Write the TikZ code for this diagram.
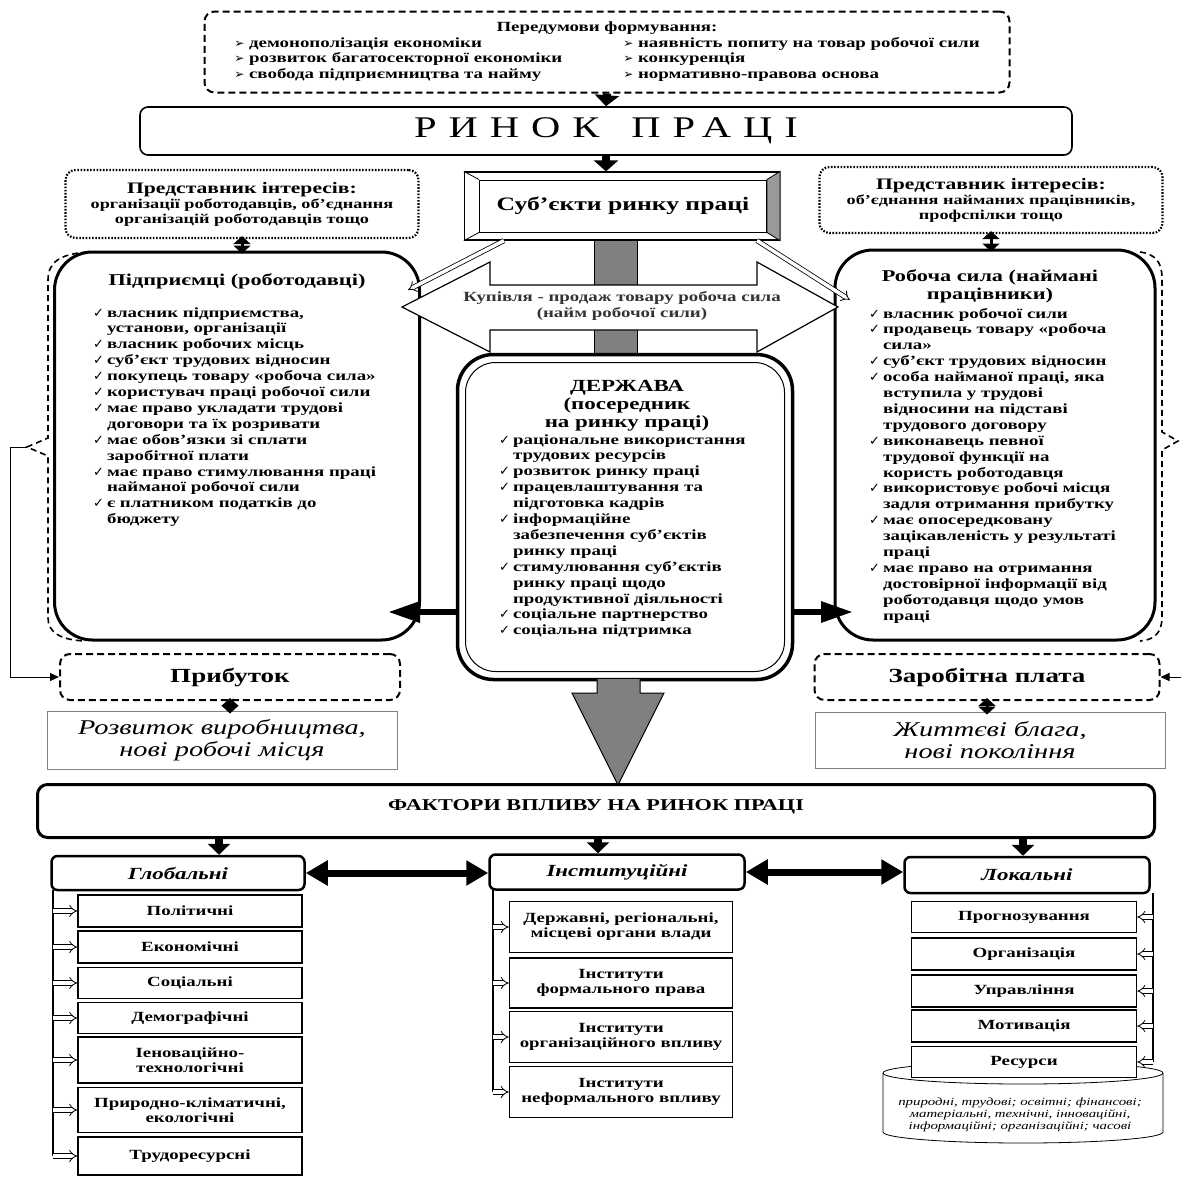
\documentclass[tikz,border=0pt]{standalone}
\usepackage{fontspec}
\setmainfont{Liberation Serif}[FakeStretch=1.35]
\newfontfamily\dingfont{DejaVu Sans}
\usetikzlibrary{arrows.meta,positioning}

\newcommand{\chk}{{\dingfont\mdseries\fontsize{13}{13}\selectfont ✓}}
\newcommand{\pnt}{{\dingfont\mdseries\fontsize{12}{12}\selectfont ➢}}
\newcommand{\listfont}{\fontsize{14}{15.9}\selectfont}
\newcommand{\checklist}[1]{\begin{tabular}[t]{@{}l@{\hspace{3pt}}l@{}}#1\end{tabular}}

\begin{document}
\begin{tikzpicture}[
        x = 1pt, y = -1pt, % one unit = one pixel of the scheme
        font = \bfseries,
        inner sep = 2pt
        ]

        \tikzset{
        dashbox/.style = {draw, line width=2pt, dash pattern=on 7pt off 4pt, rounded corners=10pt},
        dotbox/.style = {draw, line width=2.2pt, dash pattern=on 1.6pt off 1.6pt, rounded corners=10pt, align=center,
                font=\bfseries\fontsize{13.5}{15}\selectfont},
        panel/.style = {draw, line width=3pt, rounded corners=38pt, fill=white},
        tagbox/.style = {draw, line width=2.5pt, rounded corners=6pt, fill=white},
        factor/.style = {draw, line width=1.3pt, align=center, inner sep=1pt, fill=white,
                font=\bfseries\fontsize{14}{15}\selectfont},
        downarrow/.style = {line width=8pt, -{Triangle[length=11pt,width=24pt]}},
        pairarrow/.style = {line width=3pt, {Triangle[length=8pt,width=17pt]}-{Triangle[length=8pt,width=17pt]},
                shorten <=-3pt, shorten >=-3pt},
        sidearrow/.style = {line width=6pt, -{Triangle[length=32pt,width=20pt]}},
        linkarrow/.style = {line width=7pt, {Triangle[length=22pt,width=24pt]}-{Triangle[length=22pt,width=24pt]}},
        feed/.style = {double, double distance=3.5pt, line width=0.8pt, -Implies},
        backline/.style = {line width=1pt, -{Triangle[length=9pt,width=8pt]}},
        brace/.style = {line width=1.6pt, dash pattern=on 6pt off 4pt}
        }

        \useasboundingbox (0,0) rectangle (1181,1176);

        % top: preconditions and the market
        \node[dashbox, minimum width=805, minimum height=81, font=\bfseries\fontsize{14}{15.5}\selectfont] (pre) at (607,52)
            {\begin{tabular}{@{}p{389pt}@{}l@{}}
             \multicolumn{2}{c}{Передумови формування:}\\
             \pnt\ демонополізація економіки & \pnt\ наявність попиту на товар робочої сили\\
             \pnt\ розвиток багатосекторної економіки & \pnt\ конкуренція\\
             \pnt\ свобода підприємництва та найму & \pnt\ нормативно-правова основа
             \end{tabular}};
        \node[tagbox, line width=1.6pt, rounded corners=8pt, minimum width=932, minimum height=48,
              font=\mdseries\fontsize{30}{32}\selectfont\addfontfeature{LetterSpace=40}] (market) at (606,131)
            {РИНОК\hspace{32pt}ПРАЦІ};
        \draw[downarrow] (pre.south) -- (market.north);

        % subjects
        \node[draw, line width=1pt, fill=gray, minimum width=43, minimum height=116, inner sep=0] (bar) at (616,298) {};
        \node[draw, line width=1.2pt, fill=white, minimum width=315, minimum height=68, inner sep=0] (subj) at (622,206) {};
        \node[draw, line width=1pt, minimum width=287, minimum height=52,
              font=\bfseries\fontsize{19}{20}\selectfont] (subjin) at (623,206) {Суб’єкти ринку праці};
        \filldraw[fill=gray!80, line width=0.8pt] (subjin.north east) -- (subj.north east) -- (subj.south east) -- (subjin.south east) -- cycle;
        \draw[line width=0.8pt] (subj.north west) -- (subjin.north west) (subj.south west) -- (subjin.south west);
        \draw[downarrow] (market.south) -- (market.south |- subj.north);

        % employers
        \node[dotbox, minimum width=353, minimum height=68] (repL) at (242,204)
            {{\fontsize{16}{18}\selectfont Представник інтересів:}\\
             організації роботодавців, об’єднання\\
             організацій роботодавців тощо};
        \node[panel, minimum width=365, minimum height=388] (emp) at (237,446) {};
        \node[font=\bfseries\fontsize{16.5}{18}\selectfont] (empT) at (237,281) {Підприємці (роботодавці)};
        \node[anchor=base west, inner sep=0, font=\bfseries\listfont] (empL) at (93,317)
            {\checklist{
             \chk & власник підприємства,\\
                  & установи, організації\\
             \chk & власник робочих місць\\
             \chk & суб’єкт трудових відносин\\
             \chk & покупець товару «робоча сила»\\
             \chk & користувач праці робочої сили\\
             \chk & має право укладати трудові\\
                  & договори та їх розривати\\
             \chk & має обов’язки зі сплати\\
                  & заробітної плати\\
             \chk & має право стимулювання праці\\
                  & найманої робочої сили\\
             \chk & є платником податків до\\
                  & бюджету}};
        \draw[pairarrow] (repL.south) -- (repL.south |- emp.north);
        \coordinate (braceL) at (27,447);
        \draw[brace] (88,252) .. controls (60,254) and (48,262) .. (48,280) -- (48,438) -- (braceL)
            -- (48,456) -- (48,618) .. controls (48,632) and (60,640) .. (85,641);

        \node[dashbox, minimum width=340, minimum height=46, font=\bfseries\fontsize{20}{22}\selectfont] (prof) at (230,677) {Прибуток};
        \node[draw=gray, line width=1pt, minimum width=350, minimum height=58, align=center,
              font=\itshape\fontsize{21}{22}\selectfont] (dev) at (222,740) {Розвиток виробництва,\\нові робочі місця};
        \draw[pairarrow] (prof.south) -- (prof.south |- dev.north);
        \draw[backline] (braceL) -- ++(-17,0) |- (prof.west);

        % workers
        \node[dotbox, minimum width=343, minimum height=66] (repR) at (991,200)
            {{\fontsize{16}{18}\selectfont Представник інтересів:}\\
             об’єднання найманих працівників,\\
             профспілки тощо};
        \node[panel, minimum width=320, minimum height=390] (work) at (995,445) {};
        \node[font=\bfseries\fontsize{16.5}{18}\selectfont, align=center] (workT) at (990,286) {Робоча сила (наймані\\працівники)};
        \node[anchor=base west, inner sep=0, font=\bfseries\listfont] (workL) at (869,318)
            {\checklist{
             \chk & власник робочої сили\\
             \chk & продавець товару «робоча\\
                  & сила»\\
             \chk & суб’єкт трудових відносин\\
             \chk & особа найманої праці, яка\\
                  & вступила у трудові\\
                  & відносини на підставі\\
                  & трудового договору\\
             \chk & виконавець певної\\
                  & трудової функції на\\
                  & користь роботодавця\\
             \chk & використовує робочі місця\\
                  & задля отримання прибутку\\
             \chk & має опосередковану\\
                  & зацікавленість у результаті\\
                  & праці\\
             \chk & має право на отримання\\
                  & достовірної інформації від\\
                  & роботодавця щодо умов\\
                  & праці}};
        \draw[pairarrow] (repR.south) -- (repR.south |- work.north);
        \coordinate (braceR) at (1178,441);
        \draw[brace] (1140,252) .. controls (1155,254) and (1162,262) .. (1162,278) -- (1162,432) -- (braceR)
            -- (1162,450) -- (1162,617) .. controls (1162,632) and (1155,640) .. (1140,641);

        \node[dashbox, minimum width=345, minimum height=46, font=\bfseries\fontsize{20}{22}\selectfont] (wage) at (987,677) {Заробітна плата};
        \node[draw=gray, line width=1pt, minimum width=350, minimum height=56, align=center,
              font=\itshape\fontsize{21}{22}\selectfont] (life) at (990,740) {Життєві блага,\\нові покоління};
        \draw[pairarrow] (wage.south) -- (wage.south |- life.north);
        \coordinate (wageIn) at (1181,677);
        \draw[backline] (wageIn) -- (wage.east);

        % buying and selling of labour
        \draw[line width=1.2pt, fill=white] (402,307) -- (490,262) -- (490,285) -- (757,285) -- (757,262) -- (838,307)
            -- (757,352) -- (757,330) -- (490,330) -- (490,352) -- cycle;
        \node[font=\bfseries\fontsize{14}{16}\selectfont, align=center, text=black!80] (trade) at (622,306)
            {Купівля - продаж товару робоча сила\\(найм робочої сили)};
        \coordinate (buyL) at (408,290);
        \coordinate (sellR) at (850,300);
        \draw[feed] ([xshift=40pt]subj.south west) -- (buyL);
        \draw[feed] ([xshift=-23pt]subj.south east) -- (sellR);

        % the state
        \node[draw, line width=3.5pt, rounded corners=36pt, minimum width=335, minimum height=325, fill=white] (state) at (625,517) {};
        \node[draw, line width=1pt, rounded corners=30pt, minimum width=319, minimum height=309] (stateIn) at (state.center) {};
        \node[font=\bfseries\fontsize{17}{18}\selectfont, align=center] (stateT) at (627,406) {ДЕРЖАВА\\(посередник\\на ринку праці)};
        \node[anchor=base west, inner sep=0, font=\bfseries\listfont] (stateL) at (499,444)
            {\checklist{
             \chk & раціональне використання\\
                  & трудових ресурсів\\
             \chk & розвиток ринку праці\\
             \chk & працевлаштування та\\
                  & підготовка кадрів\\
             \chk & інформаційне\\
                  & забезпечення суб’єктів\\
                  & ринку праці\\
             \chk & стимулювання суб’єктів\\
                  & ринку праці щодо\\
                  & продуктивної діяльності\\
             \chk & соціальне партнерство\\
             \chk & соціальна підтримка}};
        \coordinate (toEmp) at (388,612);
        \coordinate (toWork) at (853,612);
        \draw[sidearrow] (toEmp -| state.west) -- (toEmp);
        \draw[sidearrow] (toWork -| state.east) -- (toWork);
        \filldraw[fill=gray, line width=1pt] (597,679) -- (597,693) -- (572,693) -- (618,785) -- (664,693) -- (640,693) -- (640,679);

        % factors
        \node[tagbox, line width=3pt, rounded corners=10pt, minimum width=1117, minimum height=53,
              text height=11pt, text depth=13pt, font=\bfseries\fontsize{16.5}{17}\selectfont] (factors) at (596,811)
            {ФАКТОРИ ВПЛИВУ НА РИНОК ПРАЦІ};
        \node[tagbox, minimum width=253, minimum height=34, font=\bfseries\itshape\fontsize{17}{18}\selectfont] (glob) at (178,873) {Глобальні};
        \node[tagbox, minimum width=255, minimum height=35, font=\bfseries\itshape\fontsize{17}{18}\selectfont] (inst) at (617,872) {Інституційні};
        \node[tagbox, minimum width=245, minimum height=36, font=\bfseries\itshape\fontsize{17}{18}\selectfont] (loc) at (1027,875) {Локальні};
        \coordinate (gIn) at ([xshift=41pt]glob.north);
        \coordinate (iIn) at ([xshift=-19pt]inst.north);
        \coordinate (lIn) at ([xshift=-4pt]loc.north);
        \draw[downarrow, -{Triangle[length=11pt,width=22pt]}] (factors.south -| gIn) -- (gIn);
        \draw[downarrow, -{Triangle[length=11pt,width=22pt]}] (factors.south -| iIn) -- (iIn);
        \draw[downarrow, -{Triangle[length=11pt,width=22pt]}] (factors.south -| lIn) -- (lIn);
        \draw[linkarrow] (glob.east) -- (glob.east -| inst.west);
        \draw[linkarrow] (inst.east) -- (inst.east -| loc.west);

        % global factors
        \node[factor, minimum width=224, minimum height=32] (g1) at (190,911) {Політичні};
        \node[factor, minimum width=224, minimum height=32] (g2) at (190,947) {Економічні};
        \node[factor, minimum width=224, minimum height=31] (g3) at (190,983) {Соціальні};
        \node[factor, minimum width=224, minimum height=31] (g4) at (190,1018) {Демографічні};
        \node[factor, minimum width=224, minimum height=46] (g5) at (190,1060) {Іеноваційно-\\технологічні};
        \node[factor, minimum width=224, minimum height=45] (g6) at (190,1110) {Природно-кліматичні,\\екологічні};
        \node[factor, minimum width=224, minimum height=38] (g7) at (190,1156) {Трудоресурсні};
        \coordinate (spineL) at (53,890);
        \draw[line width=2pt] (spineL) -- (spineL |- g7.west);
        \draw[feed] (g1.west -| spineL) -- (g1.west);
        \draw[feed] (g2.west -| spineL) -- (g2.west);
        \draw[feed] (g3.west -| spineL) -- (g3.west);
        \draw[feed] (g4.west -| spineL) -- (g4.west);
        \draw[feed] (g5.west -| spineL) -- (g5.west);
        \draw[feed] (g6.west -| spineL) -- (g6.west);
        \draw[feed] (g7.west -| spineL) -- (g7.west);

        % institutional factors
        \node[factor, minimum width=223, minimum height=51] (i1) at (621,927) {Державні, регіональні,\\місцеві органи влади};
        \node[factor, minimum width=223, minimum height=50] (i2) at (621,983) {Інститути\\формального права};
        \node[factor, minimum width=223, minimum height=51] (i3) at (621,1037) {Інститути\\організаційного впливу};
        \node[factor, minimum width=223, minimum height=51] (i4) at (621,1092) {Інститути\\неформального впливу};
        \coordinate (spineC) at (493,890);
        \draw[line width=2pt] (spineC) -- (spineC |- i4.west);
        \draw[feed] (i1.west -| spineC) -- (i1.west);
        \draw[feed] (i2.west -| spineC) -- (i2.west);
        \draw[feed] (i3.west -| spineC) -- (i3.west);
        \draw[feed] (i4.west -| spineC) -- (i4.west);

        % local factors
        \draw[line width=0.8pt, fill=white] (883,1073) -- (883,1132) arc[start angle=180, end angle=0, x radius=140, y radius=11] -- (1163,1073);
        \draw[line width=0.8pt, fill=white] (1023,1073) ellipse [x radius=140, y radius=11];
        \node[font=\itshape\fontsize{11}{12}\selectfont, align=center] (resT) at (1020,1115)
            {природні, трудові; освітні; фінансові;\\матеріальні, технічні, інноваційні,\\інформаційні; організаційні; часові};
        \node[factor, minimum width=225, minimum height=31] (l1) at (1024,917) {Прогнозування};
        \node[factor, minimum width=225, minimum height=32] (l2) at (1024,954) {Організація};
        \node[factor, minimum width=225, minimum height=32] (l3) at (1024,991) {Управління};
        \node[factor, minimum width=225, minimum height=32] (l4) at (1024,1026) {Мотивація};
        \node[factor, minimum width=225, minimum height=31] (l5) at (1024,1062) {Ресурси};
        \coordinate (spineR) at (1153,893);
        \draw[line width=2pt] (spineR) -- (spineR |- l5.east);
        \draw[feed] (l1.east -| spineR) -- (l1.east);
        \draw[feed] (l2.east -| spineR) -- (l2.east);
        \draw[feed] (l3.east -| spineR) -- (l3.east);
        \draw[feed] (l4.east -| spineR) -- (l4.east);
        \draw[feed] (l5.east -| spineR) -- (l5.east);

    \end{tikzpicture}
\end{document}
